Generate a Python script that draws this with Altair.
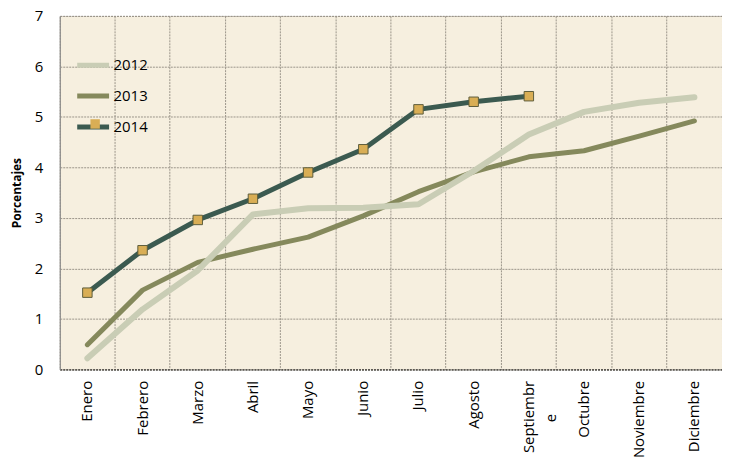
import altair as alt
import pandas as pd

months = ["Enero", "Febrero", "Marzo", "Abril", "Mayo", "Junio", "Julio",
          "Agosto", "Septiembre", "Octubre", "Noviembre", "Diciembre"]
v2012 = [0.22, 1.19, 1.96, 3.07, 3.19, 3.20, 3.27, 3.93, 4.65, 5.10, 5.28, 5.39]
v2013 = [0.49, 1.57, 2.12, 2.38, 2.62, 3.04, 3.52, 3.91, 4.21, 4.33, 4.62, 4.92]
v2014 = [1.52, 2.36, 2.96, 3.38, 3.90, 4.36, 5.15, 5.30, 5.41]
series = ["2012", "2013", "2014"]
colors = ["#C9CDB5", "#85895C", "#3B5A50"]
y_ticks = [0, 1, 2, 3, 4, 5, 6, 7]

rows = []
for name, vals in zip(series, [v2012, v2013, v2014]):
    for m, v in zip(months, vals):
        rows.append({"mes": m, "serie": name, "valor": v, "marca": name})
df = pd.DataFrame(rows)

FONT = "Open Sans"
GRID = "#9a9489"
PAD = "\u2800" * 3

x_enc = alt.X(
    "mes:N",
    sort=months,
    scale=alt.Scale(type="band", domain=months, paddingInner=0, paddingOuter=0),
    axis=alt.Axis(
        title=None,
        labelAngle=-90,
        labelAlign="right",
        labelBaseline="middle",
        labelFont=FONT,
        labelFontSize=15,
        labelColor="#000000",
        labelPadding=11,
        labelLineHeight=22,
        labelOverlap=False,
        labelExpr="datum.value == 'Septiembre' ? ['Septiembr', 'e" + PAD + "'] : datum.value",
        ticks=False,
        bandPosition=0,
        grid=True,
        gridColor=GRID,
        gridDash=[2, 1],
        gridWidth=1,
        domainColor="#222222",
        domainDash=[2, 1],
        domainWidth=1,
    ),
)
y_enc = alt.Y(
    "valor:Q",
    scale=alt.Scale(domain=[0, 7], nice=False),
    axis=alt.Axis(
        title="Porcentajes",
        titleFont=FONT,
        titleFontSize=12,
        titleFontWeight="bold",
        titleColor="#000000",
        titlePadding=11,
        values=y_ticks,
        labelFont=FONT,
        labelFontSize=15,
        labelColor="#000000",
        labelPadding=17,
        ticks=False,
        grid=True,
        gridColor=GRID,
        gridDash=[2, 1],
        gridWidth=1,
        domainColor="#8c8c8c",
        domainWidth=1,
    ),
)

color_enc = alt.Color(
    "serie:N",
    scale=alt.Scale(domain=series, range=colors),
    legend=alt.Legend(
        title=None,
        orient="none",
        legendX=15,
        legendY=42,
        padding=0,
        symbolType="stroke",
        symbolSize=1024,
        symbolStrokeWidth=5,
        clipHeight=15,
        rowPadding=15,
        labelFont=FONT,
        labelFontSize=15,
        labelColor="#000000",
        labelOffset=2,
    ),
)

base = alt.Chart(df)

def line_layer(name, width):
    return base.transform_filter(alt.datum.serie == name).mark_line(
        strokeWidth=width, strokeCap="round", strokeJoin="round"
    ).encode(x=x_enc, y=y_enc, color=color_enc)

points = base.transform_filter(alt.datum.serie == "2014").mark_point(
    shape="square", filled=True, fill="#D9AE55", stroke="#5E5E3C",
    strokeWidth=1, size=90, opacity=1
).encode(
    x=x_enc,
    y=y_enc,
    shape=alt.Shape(
        "marca:N",
        scale=alt.Scale(domain=["2014"], range=["square"]),
        legend=alt.Legend(
            title=None,
            orient="none",
            legendX=30,
            legendY=103,
            padding=0,
            symbolSize=90,
            symbolFillColor="#D9AE55",
            symbolStrokeColor="#5E5E3C",
            symbolStrokeWidth=1,
            labelExpr="''",
            labelFontSize=1,
        ),
    ),
)

chart = alt.layer(
    line_layer("2013", 5),
    line_layer("2012", 6),
    line_layer("2014", 5),
    points,
).properties(
    width=665,
    height=355,
    autosize=alt.AutoSizeParams(type="none"),
    padding={"left": 52, "top": 7, "right": 0, "bottom": 89},
    background="#FFFFFF",
).configure_view(
    fill="#F6EFDF",
    stroke=GRID,
    strokeDash=[2, 1],
    strokeWidth=1,
)

chart.save("out.html", embed_options={"renderer": "svg", "actions": False})
